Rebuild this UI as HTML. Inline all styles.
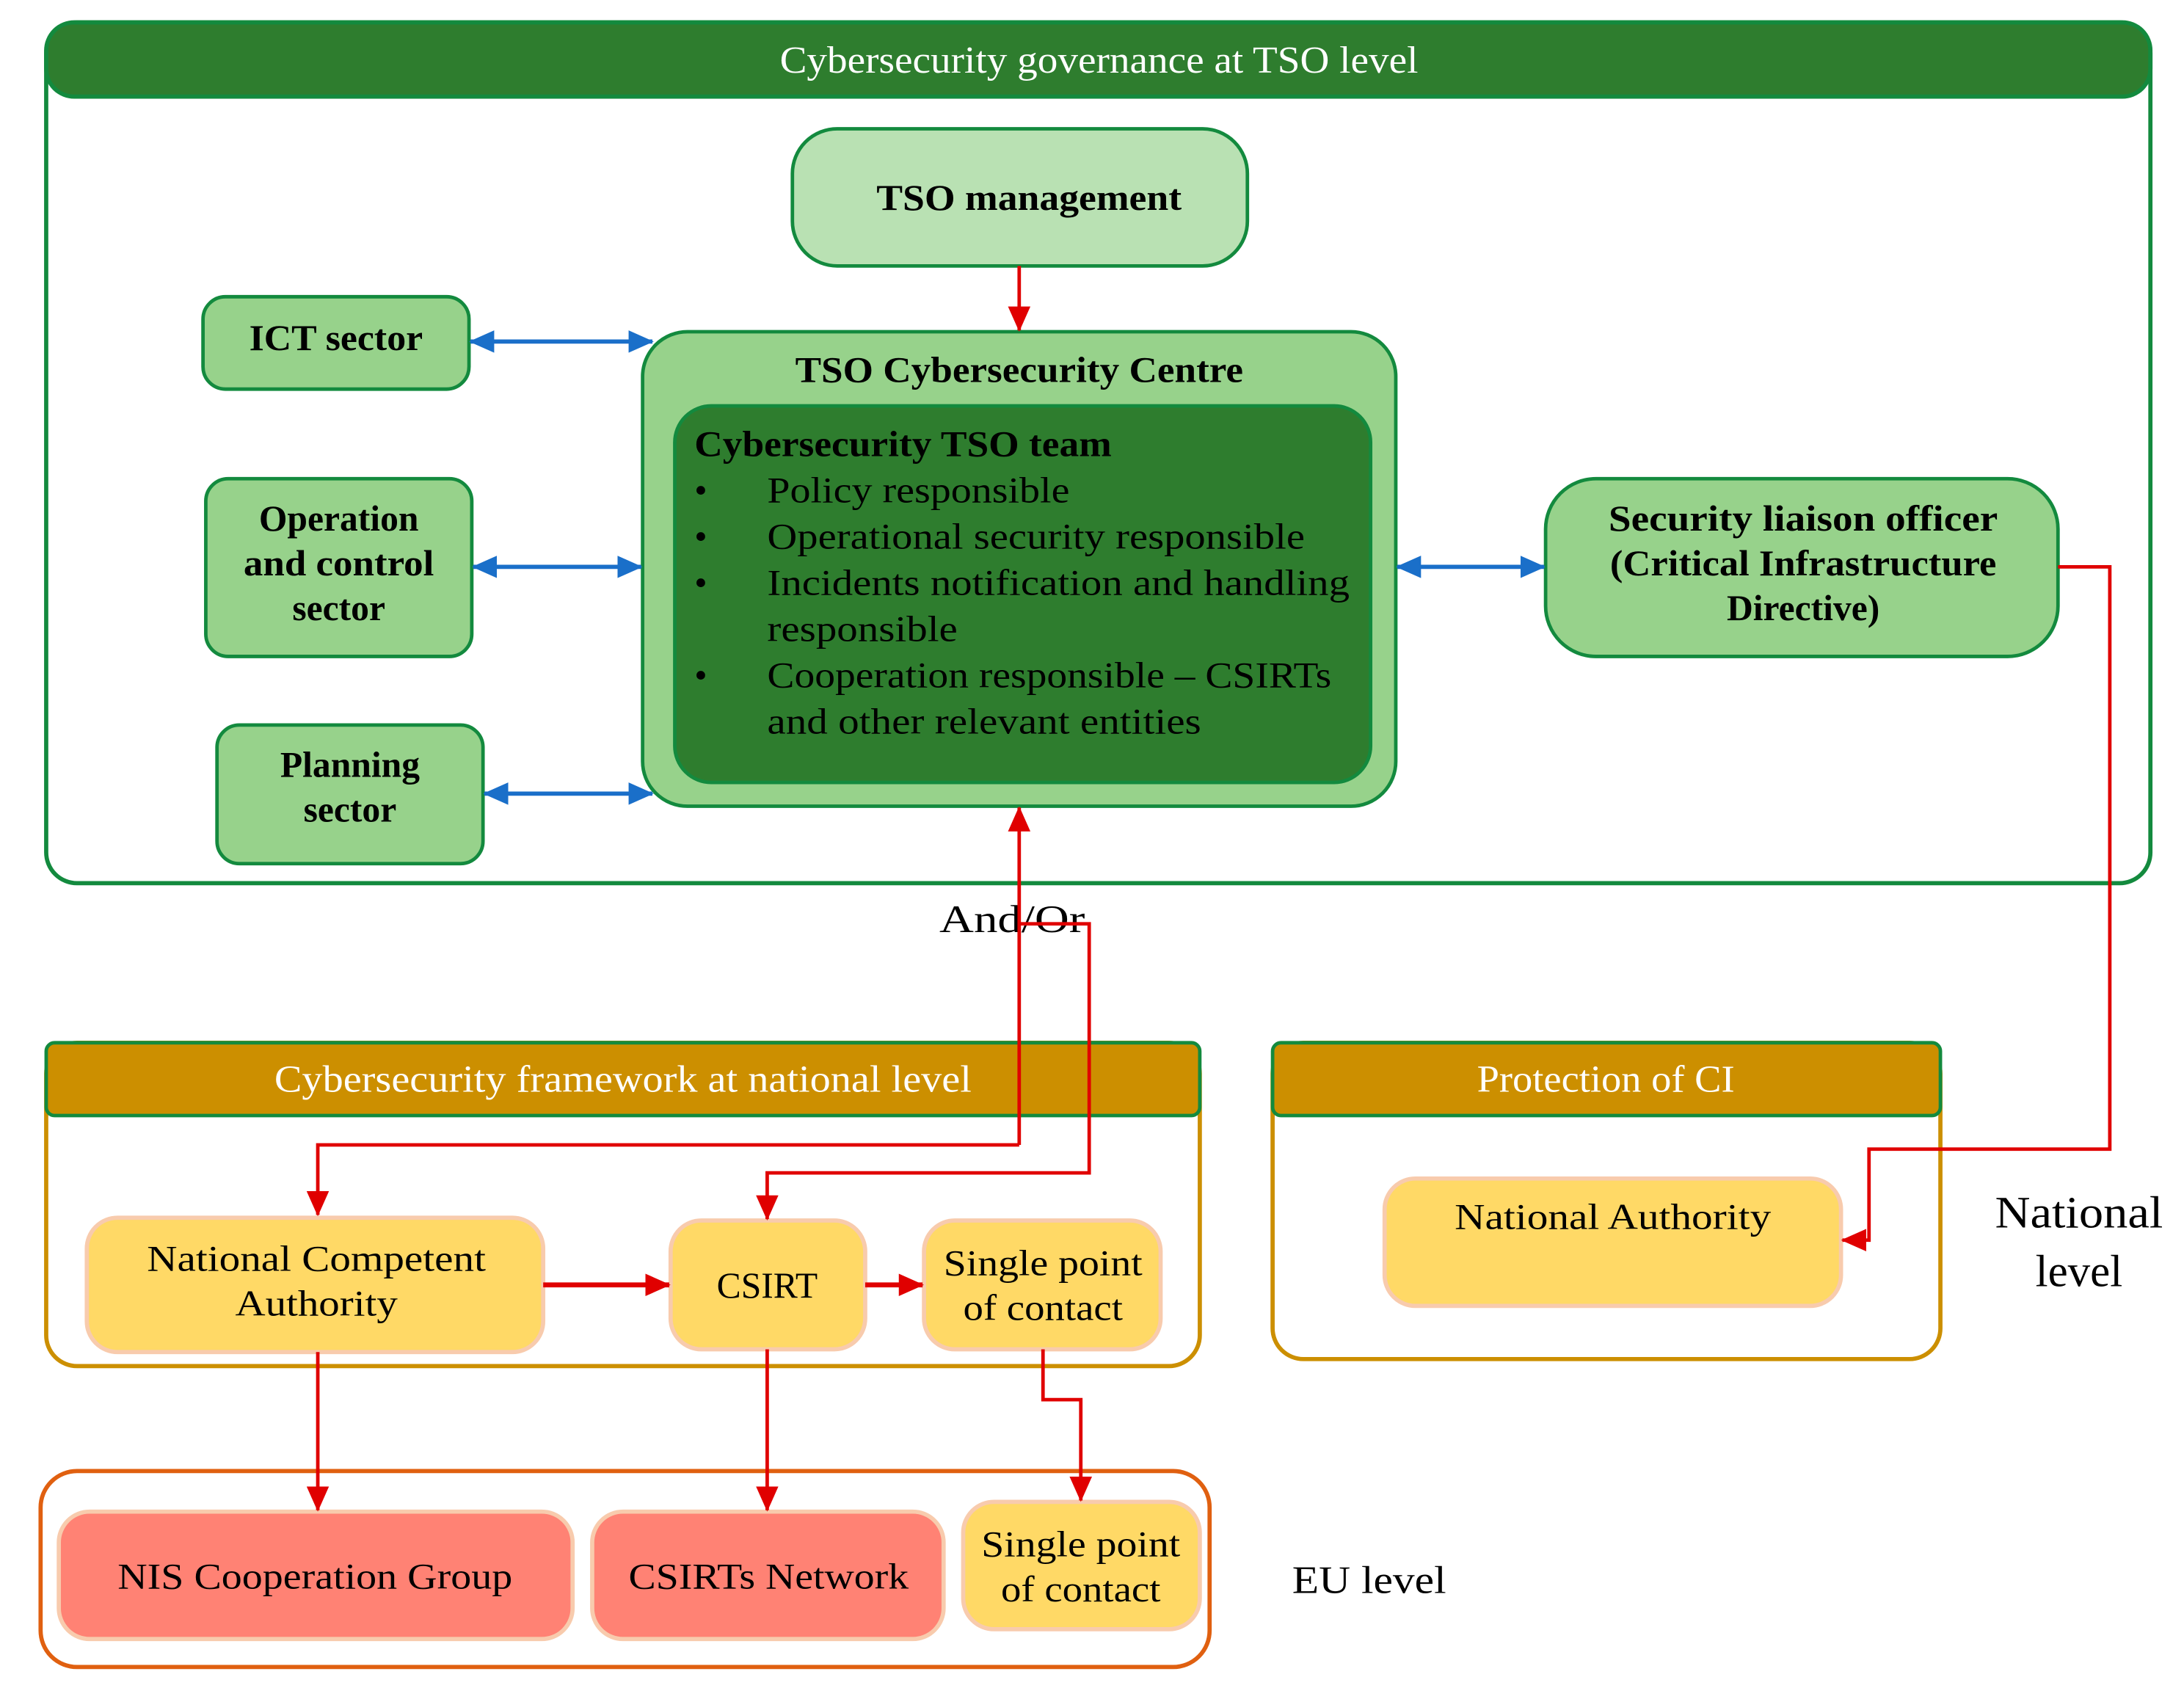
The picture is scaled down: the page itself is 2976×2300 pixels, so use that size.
<!DOCTYPE html>
<html><head><meta charset="utf-8"><style>
html,body{margin:0;padding:0;background:#fff;}
svg{display:block;}
text{font-family:"Liberation Serif",serif;}
.b{font-weight:bold;}
</style></head><body>
<svg width="2976" height="2300" viewBox="0 0 1560 1206" preserveAspectRatio="none" xmlns="http://www.w3.org/2000/svg">
<defs>
<marker id="rr" markerWidth="18" markerHeight="16" refX="17" refY="8" orient="auto" markerUnits="userSpaceOnUse"><path d="M0,0 L18,8 L0,16z" fill="#e00000"/></marker>
<marker id="bb" markerWidth="18" markerHeight="16" refX="17" refY="8" orient="auto-start-reverse" markerUnits="userSpaceOnUse"><path d="M0,0 L18,8 L0,16z" fill="#1a6fc9"/></marker>
</defs>
<!-- TSO outer -->
<rect x="33" y="16" width="1503" height="615" rx="22" fill="#fff" stroke="#138a3e" stroke-width="3"/>
<rect x="33" y="16" width="1503" height="53" rx="20" fill="#2e7d2e" stroke="#138a3e" stroke-width="3"/>
<text x="785" y="52" font-size="27" fill="#fff" text-anchor="middle" textLength="456" lengthAdjust="spacingAndGlyphs">Cybersecurity governance at TSO level</text>

<rect x="566" y="92" width="325" height="98" rx="32" fill="#b9e1b3" stroke="#138a3e" stroke-width="2.5"/>
<text x="735" y="150" font-size="26" class="b" text-anchor="middle" textLength="218" lengthAdjust="spacingAndGlyphs">TSO management</text>

<rect x="145" y="212" width="190" height="66" rx="16" fill="#97d28b" stroke="#138a3e" stroke-width="2.5"/>
<text x="240" y="250" font-size="26" class="b" text-anchor="middle" textLength="124" lengthAdjust="spacingAndGlyphs">ICT sector</text>

<rect x="147" y="342" width="190" height="127" rx="16" fill="#97d28b" stroke="#138a3e" stroke-width="2.5"/>
<text x="242" y="379" font-size="26" class="b" text-anchor="middle">Operation</text>
<text x="242" y="411" font-size="26" class="b" text-anchor="middle" textLength="136" lengthAdjust="spacingAndGlyphs">and control</text>
<text x="242" y="443" font-size="26" class="b" text-anchor="middle">sector</text>

<rect x="155" y="518" width="190" height="99" rx="16" fill="#97d28b" stroke="#138a3e" stroke-width="2.5"/>
<text x="250" y="555" font-size="26" class="b" text-anchor="middle">Planning</text>
<text x="250" y="587" font-size="26" class="b" text-anchor="middle">sector</text>

<rect x="459" y="237" width="538" height="339" rx="32" fill="#97d28b" stroke="#138a3e" stroke-width="2.5"/>
<text x="728" y="273" font-size="26" class="b" text-anchor="middle" textLength="320" lengthAdjust="spacingAndGlyphs">TSO Cybersecurity Centre</text>
<rect x="482" y="290" width="497" height="269" rx="26" fill="#2e7d2e" stroke="#138a3e" stroke-width="2.5"/>
<g font-size="26">
<text x="496" y="326" class="b" textLength="298" lengthAdjust="spacingAndGlyphs">Cybersecurity TSO team</text>
<text x="496" y="359">•</text><text x="548" y="359" textLength="216" lengthAdjust="spacingAndGlyphs">Policy responsible</text>
<text x="496" y="392">•</text><text x="548" y="392" textLength="384" lengthAdjust="spacingAndGlyphs">Operational security responsible</text>
<text x="496" y="425">•</text><text x="548" y="425" textLength="416" lengthAdjust="spacingAndGlyphs">Incidents notification and handling</text>
<text x="548" y="458" textLength="136" lengthAdjust="spacingAndGlyphs">responsible</text>
<text x="496" y="491">•</text><text x="548" y="491" textLength="403" lengthAdjust="spacingAndGlyphs">Cooperation responsible – CSIRTs</text>
<text x="548" y="524" textLength="310" lengthAdjust="spacingAndGlyphs">and other relevant entities</text>
</g>

<rect x="1104" y="342" width="366" height="127" rx="36" fill="#97d28b" stroke="#138a3e" stroke-width="2.5"/>
<text x="1288" y="379" font-size="26" class="b" text-anchor="middle" textLength="278" lengthAdjust="spacingAndGlyphs">Security liaison officer</text>
<text x="1288" y="411" font-size="26" class="b" text-anchor="middle" textLength="276" lengthAdjust="spacingAndGlyphs">(Critical Infrastructure</text>
<text x="1288" y="443" font-size="26" class="b" text-anchor="middle">Directive)</text>

<g stroke="#1a6fc9" stroke-width="3" fill="none">
<line x1="336" y1="244" x2="466" y2="244" marker-start="url(#bb)" marker-end="url(#bb)"/>
<line x1="338" y1="405" x2="458" y2="405" marker-start="url(#bb)" marker-end="url(#bb)"/>
<line x1="346" y1="567" x2="466" y2="567" marker-start="url(#bb)" marker-end="url(#bb)"/>
<line x1="998" y1="405" x2="1103" y2="405" marker-start="url(#bb)" marker-end="url(#bb)"/>
</g>

<text x="723" y="666" font-size="28" text-anchor="middle" textLength="104" lengthAdjust="spacingAndGlyphs">And/Or</text>

<!-- National framework -->
<rect x="33" y="745" width="824" height="231" rx="22" fill="none" stroke="#cc8f00" stroke-width="3"/>
<rect x="33" y="745" width="824" height="52" rx="6" fill="#cc8f00" stroke="#138a3e" stroke-width="2.5"/>
<text x="445" y="780" font-size="27" fill="#fff" text-anchor="middle" textLength="498" lengthAdjust="spacingAndGlyphs">Cybersecurity framework at national level</text>

<rect x="62" y="870" width="326" height="96" rx="22" fill="#ffd966" stroke="#f8cbad" stroke-width="3"/>
<text x="226" y="908" font-size="26" text-anchor="middle" textLength="242" lengthAdjust="spacingAndGlyphs">National Competent</text>
<text x="226" y="940" font-size="26" text-anchor="middle" textLength="116" lengthAdjust="spacingAndGlyphs">Authority</text>
<rect x="479" y="872" width="139" height="92" rx="22" fill="#ffd966" stroke="#f8cbad" stroke-width="3"/>
<text x="548" y="927" font-size="26" text-anchor="middle">CSIRT</text>
<rect x="660" y="872" width="169" height="92" rx="22" fill="#ffd966" stroke="#f8cbad" stroke-width="3"/>
<text x="745" y="911" font-size="26" text-anchor="middle" textLength="142" lengthAdjust="spacingAndGlyphs">Single point</text>
<text x="745" y="943" font-size="26" text-anchor="middle" textLength="114" lengthAdjust="spacingAndGlyphs">of contact</text>

<!-- Protection of CI -->
<rect x="909" y="745" width="477" height="226" rx="22" fill="none" stroke="#cc8f00" stroke-width="3"/>
<rect x="909" y="745" width="477" height="52" rx="6" fill="#cc8f00" stroke="#138a3e" stroke-width="2.5"/>
<text x="1147" y="780" font-size="27" fill="#fff" text-anchor="middle" textLength="184" lengthAdjust="spacingAndGlyphs">Protection of CI</text>
<rect x="989" y="842" width="326" height="91" rx="22" fill="#ffd966" stroke="#f8cbad" stroke-width="3"/>
<text x="1152" y="878" font-size="26" text-anchor="middle" textLength="226" lengthAdjust="spacingAndGlyphs">National Authority</text>

<text x="1485" y="877" font-size="32" text-anchor="middle" textLength="120" lengthAdjust="spacingAndGlyphs">National</text>
<text x="1485" y="919" font-size="32" text-anchor="middle">level</text>

<!-- EU -->
<rect x="29" y="1051" width="835" height="140" rx="26" fill="none" stroke="#e06010" stroke-width="3"/>
<rect x="42" y="1080" width="367" height="91" rx="22" fill="#ff8274" stroke="#f8cbad" stroke-width="3"/>
<text x="225" y="1135" font-size="26" text-anchor="middle" textLength="282" lengthAdjust="spacingAndGlyphs">NIS Cooperation Group</text>
<rect x="423" y="1080" width="251" height="91" rx="22" fill="#ff8274" stroke="#f8cbad" stroke-width="3"/>
<text x="549" y="1135" font-size="26" text-anchor="middle" textLength="200" lengthAdjust="spacingAndGlyphs">CSIRTs Network</text>
<rect x="688" y="1073" width="169" height="91" rx="22" fill="#ffd966" stroke="#f8cbad" stroke-width="3"/>
<text x="772" y="1112" font-size="26" text-anchor="middle" textLength="142" lengthAdjust="spacingAndGlyphs">Single point</text>
<text x="772" y="1144" font-size="26" text-anchor="middle" textLength="114" lengthAdjust="spacingAndGlyphs">of contact</text>
<text x="978" y="1138" font-size="28" text-anchor="middle" textLength="110" lengthAdjust="spacingAndGlyphs">EU level</text>

<g stroke="#e00000" stroke-width="2.5" fill="none">
<polyline points="728,190 728,236" marker-end="url(#rr)"/>
<polyline points="728,818 728,577" marker-end="url(#rr)"/>
<polyline points="728,818 227,818 227,868" marker-end="url(#rr)"/>
<polyline points="728,660 778,660 778,838 548,838 548,871" marker-end="url(#rr)"/>
<polyline points="1470,405 1507,405 1507,821 1335,821 1335,886 1316,886" marker-end="url(#rr)"/>
<polyline points="388,918 478,918" stroke-width="3.5" marker-end="url(#rr)"/>
<polyline points="618,918 659,918" stroke-width="3.5" marker-end="url(#rr)"/>
<polyline points="227,966 227,1079" marker-end="url(#rr)"/>
<polyline points="548,964 548,1079" marker-end="url(#rr)"/>
<polyline points="745,964 745,1000 772,1000 772,1072" marker-end="url(#rr)"/>
</g>
</svg>
</body></html>
